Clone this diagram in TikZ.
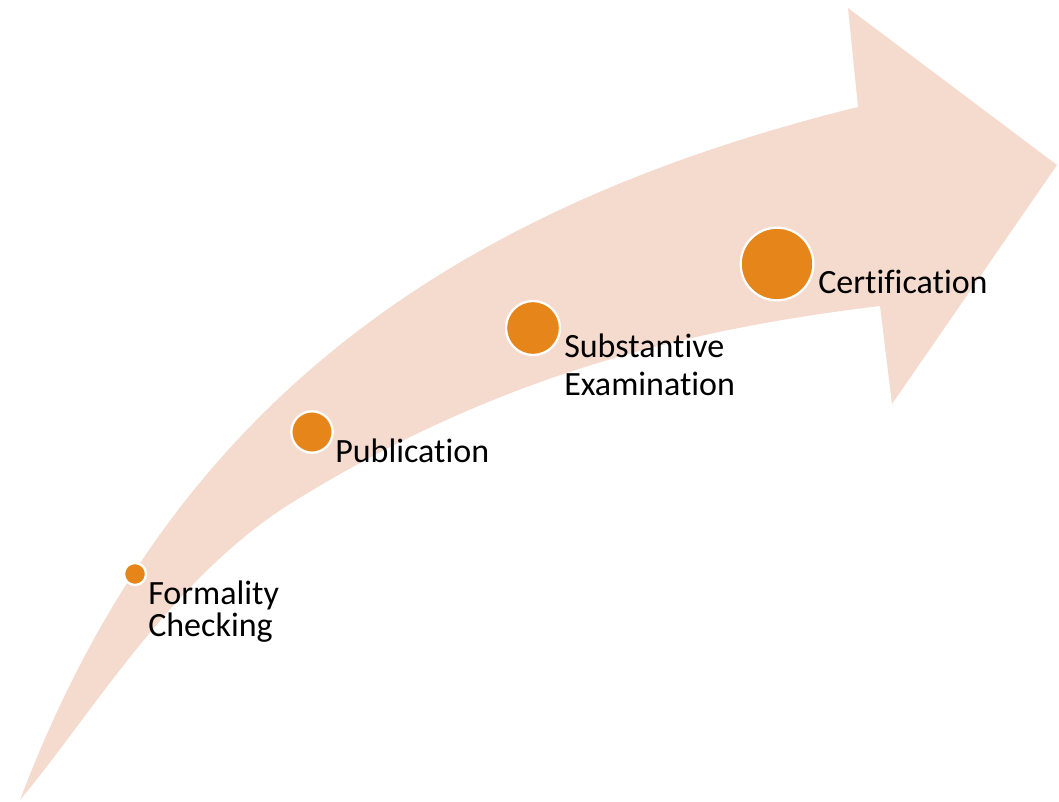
\documentclass[tikz,border=0pt]{standalone}
\usepackage{fontspec}
\setmainfont{Carlito}[Ligatures={CommonOff,RareOff}]
\definecolor{band}{HTML}{F5DACE}
\definecolor{dot}{HTML}{E5851A}
\begin{document}
\begin{tikzpicture}[x=0.75pt,y=-0.75pt,
  dotstyle/.style={circle,fill=dot,draw=white,line width=1.7pt,inner sep=0pt},
  lbl/.style={anchor=base west,inner sep=0pt,font=\fontsize{25.5}{30}\selectfont}]
\useasboundingbox (0,0) rectangle (1059,802);
% curved arrow
\fill[band] (20,800) .. controls (160,430) and (420,215) .. (858,107)
  -- (848,8) -- (1057,165) -- (892,404) -- (880,306)
  .. controls (680,330) and (493,378) .. (293,502)
  .. controls (173,576) and (92,714) .. cycle;
% dots
\node[dotstyle,minimum size=16.5pt] (d1) at (135,574) {};
\node[dotstyle,minimum size=31pt] (d2) at (312,432) {};
\node[dotstyle,minimum size=40.5pt] (d3) at (533,328) {};
\node[dotstyle,minimum size=54.5pt] (d4) at (777,264) {};
% labels
\node[lbl] (t1a) at (148,604) {Formality};
\node[lbl] (t1b) at (148,636) {Checking};
\node[lbl] (t2) at (335,462) {Publication};
\node[lbl] (t3a) at (564,357) {Substantive};
\node[lbl] (t3b) at (564,395) {Examination};
\node[lbl] (t4) at (818,293) {Certification};
\end{tikzpicture}
\end{document}
